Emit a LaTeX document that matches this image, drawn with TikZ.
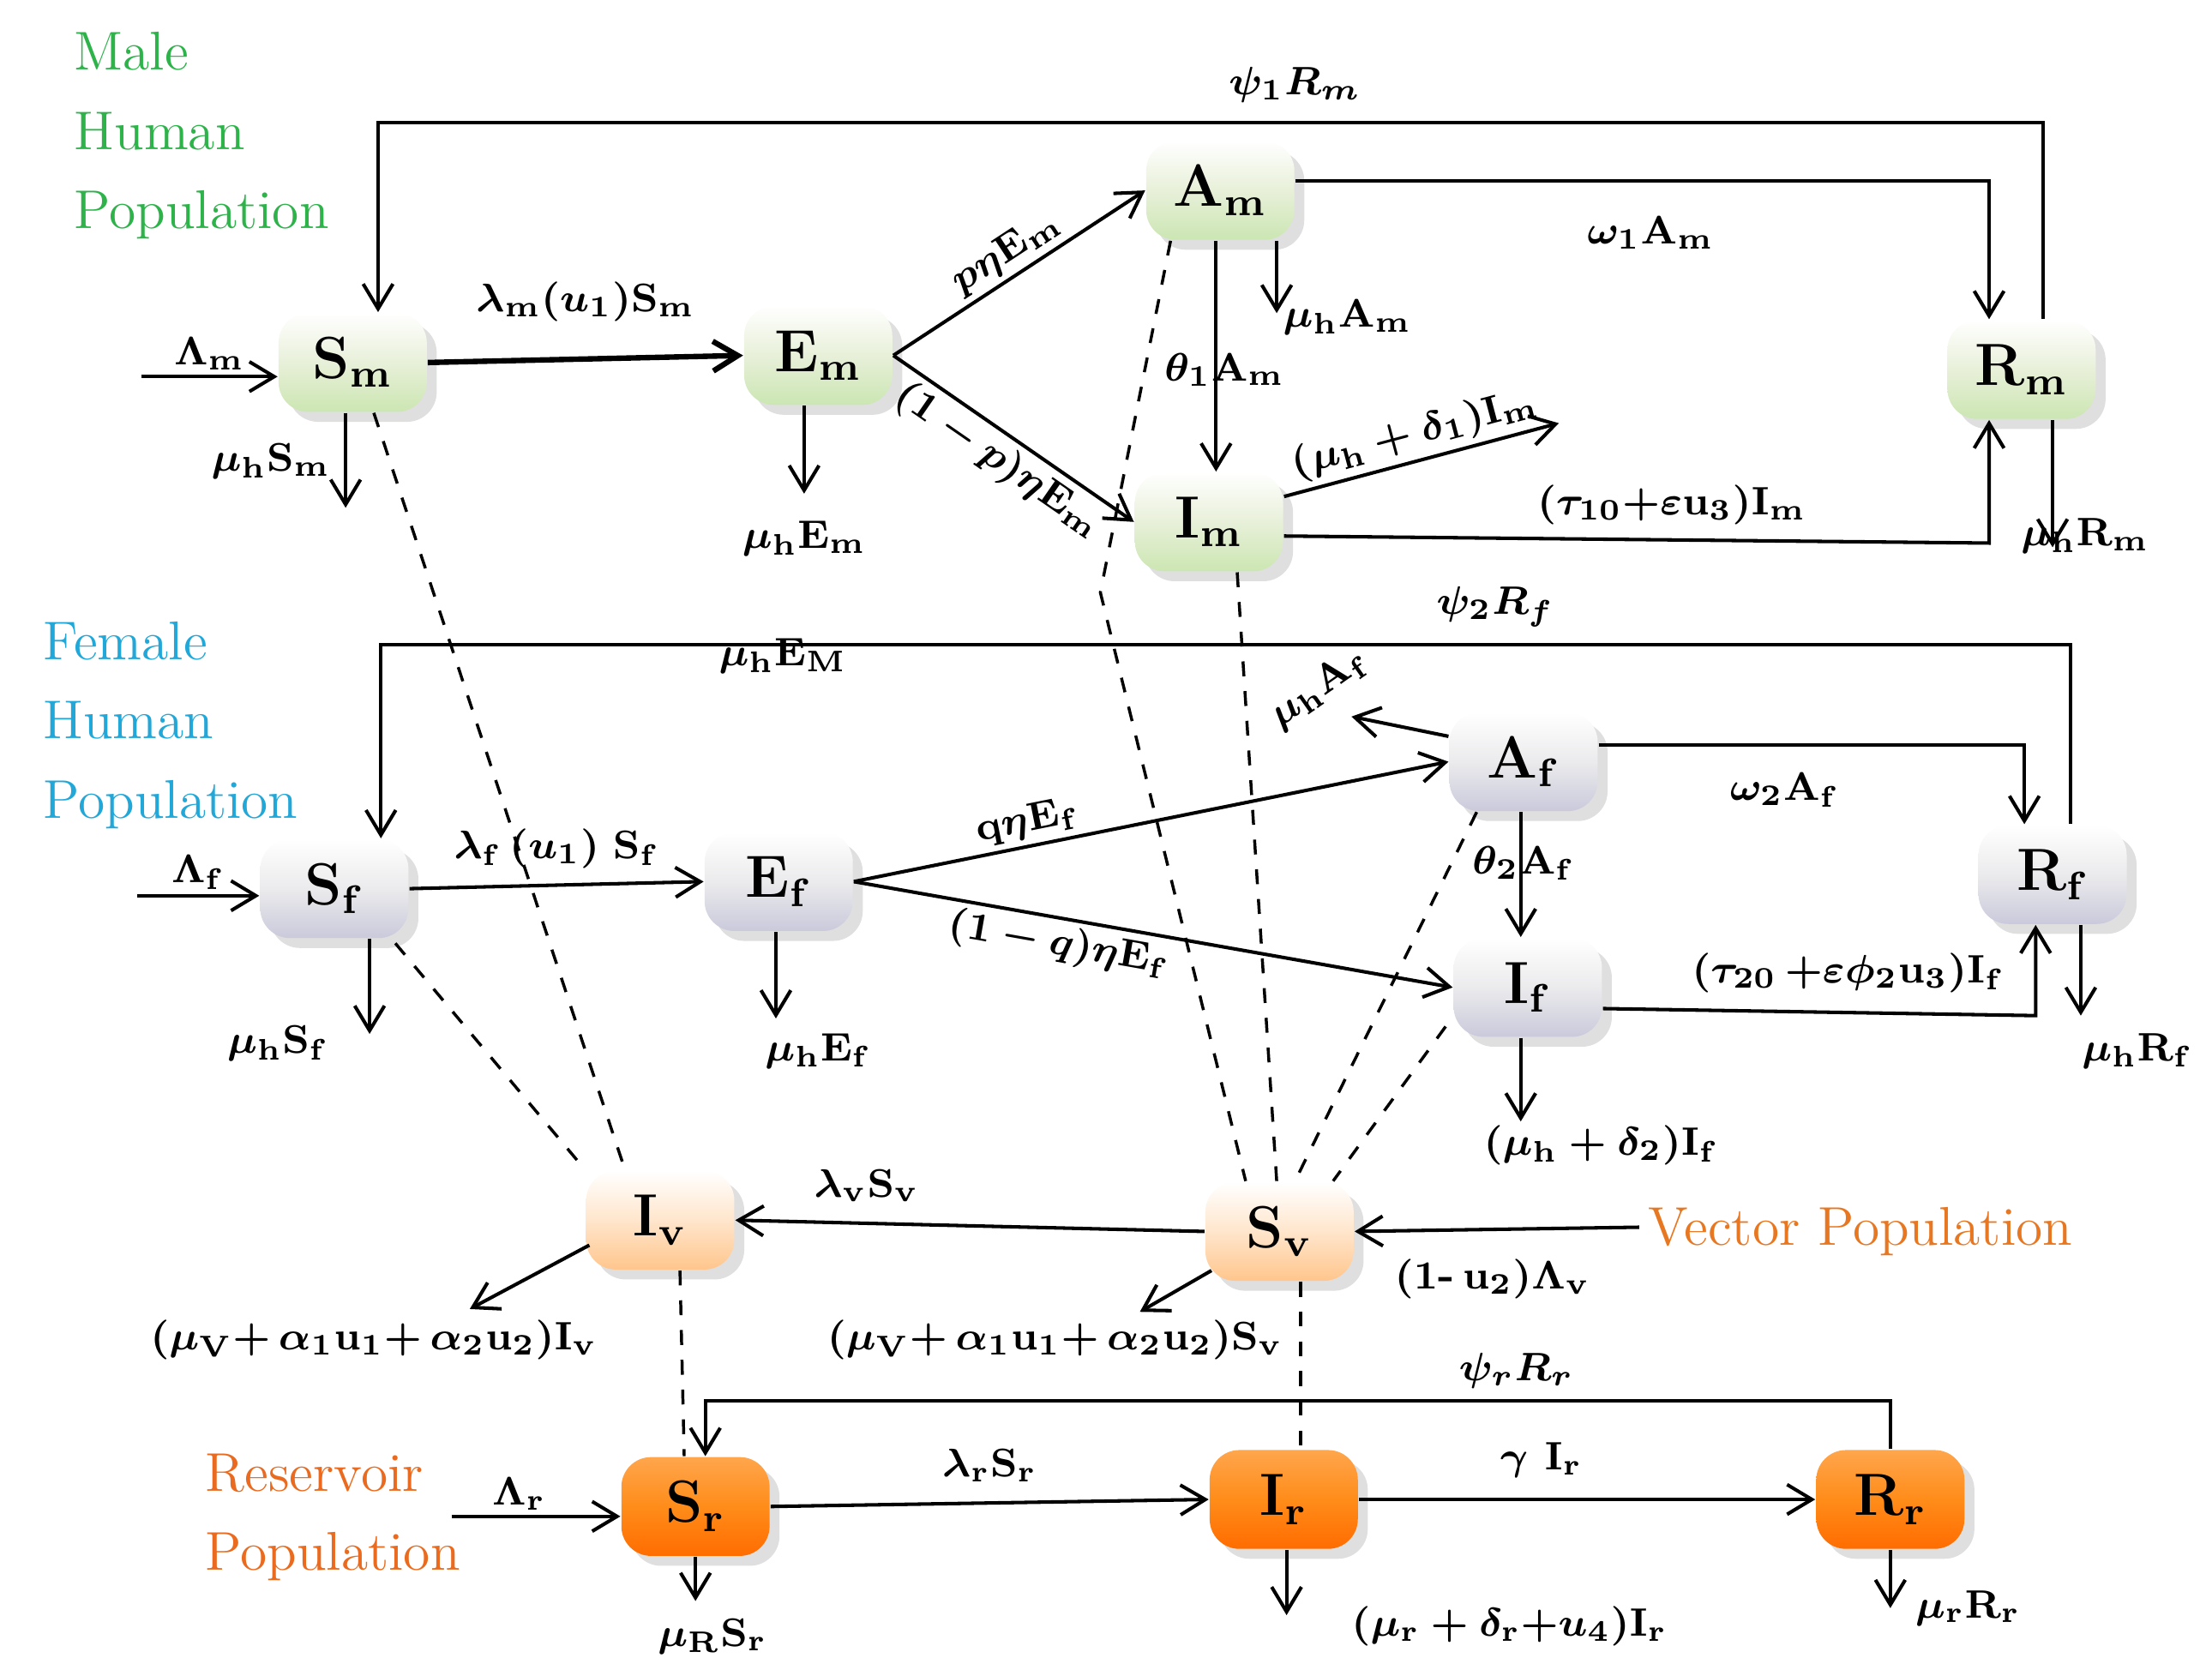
\documentclass[tikz,border=0pt]{standalone}
\usetikzlibrary{arrows.meta,shadows,calc}
\definecolor{mg}{HTML}{2DB34A}
\definecolor{fc}{HTML}{22A7D9}
\definecolor{vo}{HTML}{E87722}
\begin{document}
\begin{tikzpicture}[x=0.01cm,y=-0.01cm,
 box/.style={rounded corners=6pt,minimum width=1.05cm,minimum height=0.7cm,inner sep=0pt,font=\fontsize{12}{14}\selectfont\boldmath,drop shadow={opacity=0.25,shadow xshift=2pt,shadow yshift=-2pt}},
 male/.style={box,top color=white,bottom color=green!35!olive!30,middle color=green!20!olive!15},
 fem/.style={box,top color=white,bottom color=blue!20!gray!35,middle color=blue!5!gray!15},
 vec/.style={box,top color=white,bottom color=orange!45,middle color=orange!20},
 res/.style={box,top color=orange!70,bottom color=orange!85!red,middle color=orange!90},
 lab/.style={font=\fontsize{8.5}{10}\selectfont\bfseries\boldmath,inner sep=1pt},
 pop/.style={font=\fontsize{11}{13}\selectfont,align=left,anchor=north west,inner sep=0pt},
 ar/.style={-{Straight Barb[length=5pt,width=6pt]},line width=0.7pt},
 dsh/.style={dashed,line width=0.6pt}]
\useasboundingbox (0,0) rectangle (1568,1188);
% nodes
\node[male] (Sm) at (250,257) {$\mathrm{S_m}$};
\node[male] (Em) at (580,252) {$\mathrm{E_m}$};
\node[male] (Am) at (865,135) {$\mathrm{A_m}$};
\node[male] (Im) at (857,370) {$\mathrm{I_m}$};
\node[male] (Rm) at (1433,262) {$\mathrm{R_m}$};
\node[fem] (Sf) at (237,630) {$\mathrm{S_f}$};
\node[fem] (Ef) at (552,625) {$\mathrm{E_f}$};
\node[fem] (Af) at (1080,540) {$\mathrm{A_f}$};
\node[fem] (If) at (1083,700) {$\mathrm{I_f}$};
\node[fem] (Rf) at (1455,620) {$\mathrm{R_f}$};
\node[vec] (Iv) at (468,865) {$\mathrm{I_v}$};
\node[vec] (Sv) at (907,873) {$\mathrm{S_v}$};
\node[res] (Sr) at (493,1068) {$\mathrm{S_r}$};
\node[res] (Ir) at (910,1063) {$\mathrm{I_r}$};
\node[res] (Rr) at (1340,1063) {$\mathrm{R_r}$};
% population labels
\node[pop,text=mg] (pm) at (52,22) {Male\\[3pt]Human\\[3pt]Population};
\node[pop,text=fc] (pf) at (30,440) {Female\\[3pt]Human\\[3pt]Population};
\node[pop,text=vo,anchor=west] (pv) at (1168,873) {Vector Population};
\node[pop,text=vo!90!red] (pr) at (145,1030) {Reservoir\\[3pt]Population};
% male
\coordinate (lm) at (100,267);
\draw[ar] (lm) -- (Sm.west|-lm) node[lab,pos=0.5,above] {$\mathrm{\Lambda_m}$};
\draw[ar,line width=1.1pt] (Sm.east) -- (Em.west) node[lab,midway,above=6pt] {$\mathrm{\lambda_m(}u_1\mathrm{)S_m}$};
\draw[ar] (Em.east) -- (Am.west) node[lab,midway,above,sloped] {$p\eta\mathrm{E_m}$};
\draw[ar] (Em.east) -- (Im.west) node[lab,midway,below,sloped] {$(1-p)\eta\mathrm{E_m}$};
\draw[ar] ($(Am.east)+(0,-7)$) -- (1410,128) -- ($(Rm.north)+(-23,0)$);
\node[lab] (w1) at (1170,165) {$\mathrm{\omega_1A_m}$};
\draw[ar] ($(Am.south)+(40,0)$) -- (905,222);
\node[lab] (mam) at (955,225) {$\mathrm{\mu_hA_m}$};
\draw[ar] ($(Am.south)+(-3,0)$) -- ($(Im.north)+(5,0)$);
\node[lab] (t1) at (868,262) {$\mathrm{\theta_1A_m}$};
\coordinate (im1) at (1105,300);
\draw[ar] ($(Im.east)+(0,-18)$) -- (im1) node[lab,midway,above,sloped] {$\mathrm{(\mu_h+\delta_1)I_m}$};
\draw[ar] ($(Im.east)+(0,10)$) -- (1410,385) -- ($(Rm.south)+(-23,0)$);
\node[lab] (t10) at (1185,358) {$\mathrm{(\tau_{10}{+}\varepsilon u_3)I_m}$};
\draw[ar] ($(Rm.north)+(15,0)$) -- (1448,87) -- (268,87) -- ($(Sm.north)+(18,0)$);
\node[lab] (p1) at (918,60) {$\psi_1 R_m$};
\draw[ar] ($(Rm.south)+(22,0)$) -- (1455,388);
\node[lab] (mr) at (1478,380) {$\mathrm{\mu_hR_m}$};
\draw[ar] ($(Sm.south)+(-5,0)$) -- (245,360);
\node[lab] (ms) at (192,327) {$\mathrm{\mu_hS_m}$};
\draw[ar] ($(Em.south)+(-10,0)$) -- (570,350);
\node[lab] (me) at (570,382) {$\mathrm{\mu_hE_m}$};
% female
\draw[ar] ($(Rf.north)+(13,0)$) -- (1468,457) -- (270,457) -- ($(Sf.north)+(33,0)$);
\node[lab] (p2) at (1060,430) {$\psi_2 R_f$};
\node[lab] (mEM) at (555,465) {$\mathrm{\mu_hE_M}$};
\coordinate (lf) at (97,635);
\draw[ar] (lf) -- (Sf.west|-lf) node[lab,midway,above] {$\mathrm{\Lambda_f}$};
\draw[ar] (Sf.east) -- (Ef.west) node[lab,midway,above=2pt] {$\mathrm{\lambda_f\,(}u_1\mathrm{)\;S_f}$};
\draw[ar] (Ef.east) -- (Af.west) node[lab,pos=0.3,above,sloped] {$\mathrm{q}\eta\mathrm{E_f}$};
\draw[ar] (Ef.east) -- (If.west) node[lab,pos=0.35,below,sloped] {$(1-q)\eta\mathrm{E_f}$};
\coordinate (maf) at (958,508);
\draw[ar] ($(Af.west)+(0,-18)$) -- (maf);
\node[lab,rotate=35] (maft) at (935,488) {$\mathrm{\mu_hA_f}$};
\draw[ar] ($(Af.east)+(0,-12)$) -- (1435,528) -- ($(Rf.north)+(-20,0)$);
\node[lab] (w2) at (1265,560) {$\mathrm{\omega_2A_f}$};
\draw[ar] ($(Af.south)+(-2,0)$) -- ($(If.north)+(-5,0)$);
\node[lab] (t2) at (1080,612) {$\mathrm{\theta_2A_f}$};
\draw[ar] ($(If.east)+(0,15)$) -- (1443,720) -- ($(Rf.south)+(-12,0)$);
\node[lab] (t20) at (1310,690) {$\mathrm{(\tau_{20}\,{+}\varepsilon}\phi\mathrm{_2u_3)I_f}$};
\draw[ar] ($(Rf.south)+(20,0)$) -- (1475,720);
\node[lab] (mrf) at (1515,745) {$\mathrm{\mu_hR_f}$};
\draw[ar] ($(Sf.south)+(25,0)$) -- (262,733);
\node[lab] (msf) at (197,740) {$\mathrm{\mu_hS_f}$};
\draw[ar] ($(Ef.south)+(-2,0)$) -- (550,722);
\node[lab] (mef) at (580,745) {$\mathrm{\mu_hE_f}$};
\draw[ar] ($(If.south)+(-5,0)$) -- (1078,795);
\node[lab] (mif) at (1135,812) {$\mathrm{(\mu_h+\delta_2)I_f}$};
% vector
\draw[ar] (Sv.west) -- (Iv.east) node[lab,pos=0.72,above=3pt] {$\mathrm{\lambda_vS_v}$};
\coordinate (vin) at (1162,870);
\draw[ar] (vin) -- (Sv.east);
\node[lab] (uv) at (1058,907) {$\mathrm{(1\mbox{-}\,u_2)\Lambda_v}$};
\coordinate (sv1) at (808,930);
\draw[ar] ($(Sv.south west)+(5,-8)$) -- (sv1);
\node[lab] (msv) at (748,950) {$\mathrm{(\mu_V+}\,\alpha_1\mathrm{u_1+}\,\alpha_2\mathrm{u_2)S_v}$};
\coordinate (iv1) at (333,928);
\draw[ar] ($(Iv.south west)+(3,-18)$) -- (iv1);
\node[lab] (miv) at (265,950) {$\mathrm{(\mu_V+}\,\alpha_1\mathrm{u_1+}\,\alpha_2\mathrm{u_2)I_v}$};
% dashed
\draw[dsh] ($(Sm.south)+(15,0)$) -- ($(Iv.north)+(-25,0)$);
\draw[dsh] ($(Sf.south east)+(-10,3)$) -- (Iv.north west);
\coordinate (bend) at (780,420);
\draw[dsh] ($(Am.south west)+(18,0)$) -- (bend) -- ($(Sv.north)+(-24,0)$);
\draw[dsh] ($(Im.south)+(20,0)$) -- ($(Sv.north)+(-2,0)$);
\draw[dsh] ($(Af.south west)+(20,0)$) -- ($(Sv.north)+(11,0)$);
\draw[dsh] ($(If.south west)+(-5,-8)$) -- ($(Sv.north)+(38,0)$);
\draw[dsh] ($(Iv.south)+(14,0)$) -- ($(Sr.north)+(-8,0)$);
\draw[dsh] ($(Sv.south)+(15,0)$) -- ($(Ir.north)+(12,0)$);
% reservoir
\draw[ar] (Sr.east) -- (Ir.west) node[lab,midway,above=3pt] {$\mathrm{\lambda_rS_r}$};
\draw[ar] (Ir.east) -- (Rr.west) node[lab,pos=0.4,above=3pt] {$\gamma\ \mathrm{I_r}$};
\draw[ar] (Rr.north) -- (1340,993) -- (500,993) -- ($(Sr.north)+(7,0)$);
\node[lab] (pr2) at (1075,972) {$\psi_r R_r$};
\coordinate (lr) at (320,1075);
\draw[ar] (lr) -- (Sr.west|-lr) node[lab,pos=0.4,above] {$\mathrm{\Lambda_r}$};
\draw[ar] (Sr.south) -- (493,1135);
\node[lab] (msr) at (505,1160) {$\mathrm{\mu_RS_r}$};
\draw[ar] ($(Ir.south)+(2,0)$) -- (912,1145);
\node[lab] (mir) at (1070,1153) {$\mathrm{(\mu_r+\delta_r+}u_4\mathrm{)I_r}$};
\draw[ar] (Rr.south) -- (1340,1140);
\node[lab] (mrr) at (1395,1140) {$\mathrm{\mu_rR_r}$};
\end{tikzpicture}
\end{document}
